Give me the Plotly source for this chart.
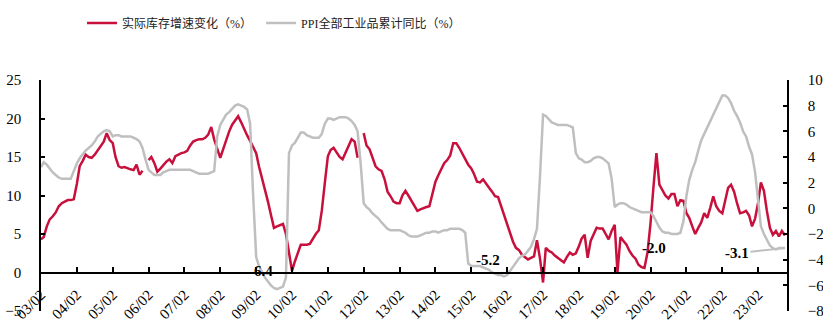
import pandas as pd
import plotly.graph_objects as go

# Monthly series, 2003-02 .. 2023-11
months = pd.date_range("2003-02-01", periods=250, freq="MS")

inventory = [
    4.3, 4.6, 6.0, 6.9, 7.3, 7.8, 8.6, 9.0, 9.2, 9.4, 9.4,                      # 2003
    9.5, 11.5, 13.8, 14.5, 15.3, 15.0, 14.9, 15.3, 15.9, 16.4, 17.0, 18.1,     # 2004
    17.2, 16.8, 15.0, 13.8, 13.6, 13.7, 13.5, 13.4, 13.3, 14.0, 12.7, 13.2,    # 2005
    None, 14.6, 15.0, 14.2, 13.1, 13.5, 14.0, 14.4, 14.7, 14.2, 15.1, 15.3,    # 2006
    15.5, 15.6, 15.8, 16.5, 17.0, 17.2, 17.3, 17.3, 17.5, 17.9, 18.9, 17.3,    # 2007
    16.0, 14.9, 16.0, 17.2, 18.3, 19.2, 19.8, 20.3, 19.5, 18.6, 17.8, 17.1,    # 2008
    16.3, 15.5, 13.8, 12.3, 10.8, 9.2, 7.5, 5.8, 6.0, 6.1, 6.3, 5.0,           # 2009
    2.6, 0.2, 1.4, 2.5, 3.6, 3.6, 3.6, 3.7, 4.4, 5.0, 5.5, 8.0,                # 2010
    11.6, 15.1, 15.9, 16.2, 15.6, 15.0, 14.7, 15.6, 16.6, 17.3, 17.0, 14.9,    # 2011
    None, 18.1, 16.5, 16.0, 15.0, 13.8, 13.4, 13.2, 12.1, 10.5, 9.9, 9.2,      # 2012
    9.0, 9.0, 10.0, 10.6, 10.0, 9.3, 8.6, 8.0, 8.2, 8.4, 8.5, 8.6,             # 2013
    10.3, 11.8, 12.6, 13.4, 14.2, 14.6, 15.2, 16.8, 16.8, 16.2, 15.5, 14.7,    # 2014
    14.0, 13.5, 12.8, 11.8, 11.7, 12.1, 11.5, 11.0, 10.5, 9.9, 9.8, 8.6,       # 2015
    7.6, 6.3, 5.2, 4.0, 3.2, 2.9, 2.3, 2.0, 1.7, 1.9, 2.1, 4.2,                # 2016
    1.8, -1.3, 3.2, 2.8, 2.6, 2.2, 1.9, 1.6, 1.3, 2.0, 2.6, 2.3,               # 2017
    2.5, 3.4, 4.4, 4.9, 1.9, 4.1, 5.0, 5.8, 5.7, 5.7, 5.0, 4.3,                # 2018
    5.4, 6.2, 0.0, 4.6, 4.1, 3.6, 2.8, 2.2, 1.8, 1.0, 0.7, 0.6,                # 2019
    2.6, 6.4, 11.0, 15.5, 11.4, 10.6, 10.0, 9.6, 10.2, 10.2, 8.6, 9.4,         # 2020
    9.3, 7.7, 7.1, 6.0, 5.0, 5.8, 6.5, 7.7, 7.1, 8.4, 9.9, 8.6,                # 2021
    8.0, 7.7, 9.3, 11.0, 11.4, 10.5, 9.0, 7.7, 7.8, 8.0, 7.4, 6.0,             # 2022
    7.0, 9.1, 11.7, 10.6, 8.0, 5.8, 4.9, 5.4, 4.7, 5.4, 4.8,                   # 2023
]

ppi = [
    3.2, 3.6, 3.4, 3.1, 2.8, 2.6, 2.4, 2.3, 2.3, 2.3, 2.3,                      # 2003
    2.9, 3.5, 3.9, 4.2, 4.5, 4.7, 4.9, 5.2, 5.6, 5.8, 6.0, 6.1,                # 2004
    6.0, 5.6, 5.7, 5.7, 5.6, 5.6, 5.6, 5.6, 5.5, 5.4, 5.2, 4.7,                # 2005
    3.8, 3.0, 2.8, 2.6, 2.6, 2.6, 2.8, 2.9, 3.0, 3.0, 3.0, 3.0,                # 2006
    3.0, 3.0, 3.0, 3.0, 2.9, 2.8, 2.7, 2.7, 2.7, 2.7, 2.8, 2.9,                # 2007
    5.6, 6.5, 6.9, 7.3, 7.5, 7.8, 8.0, 8.1, 8.0, 7.9, 7.7, 6.6,                # 2008
    1.0, -3.8, -4.5, -5.0, -5.4, -5.7, -6.0, -6.2, -6.3, -6.2, -6.1, -5.4,     # 2009
    4.3, 4.9, 5.1, 5.5, 5.9, 5.9, 5.7, 5.6, 5.5, 5.5, 5.5, 5.8,                # 2010
    6.6, 7.0, 7.0, 6.9, 7.0, 7.1, 7.1, 7.1, 7.0, 6.8, 6.5, 6.0,                # 2011
    3.5, 0.4, 0.1, -0.1, -0.4, -0.6, -0.8, -1.1, -1.4, -1.6, -1.7, -1.7,       # 2012
    -1.7, -1.7, -1.8, -1.9, -2.1, -2.2, -2.2, -2.2, -2.1, -2.0, -1.9, -1.9,    # 2013
    -1.8, -1.8, -1.9, -1.8, -1.7, -1.7, -1.6, -1.6, -1.6, -1.6, -1.7, -1.9,    # 2014
    -4.3, -4.5, -4.5, -4.5, -4.5, -4.6, -4.7, -4.8, -5.0, -5.1, -5.2, -5.2,    # 2015
    -5.3, -5.2, -4.9, -4.5, -4.2, -3.9, -3.7, -3.6, -3.3, -3.0, -2.4, -1.6,    # 2016
    2.5, 7.3, 7.2, 6.9, 6.7, 6.6, 6.5, 6.5, 6.5, 6.5, 6.4, 6.3,                # 2017
    4.3, 3.9, 3.8, 3.6, 3.6, 3.7, 3.9, 4.0, 4.0, 3.9, 3.7, 3.5,                # 2018
    2.3, 0.1, 0.3, 0.4, 0.4, 0.3, 0.1, 0.0, -0.1, -0.2, -0.3, -0.3,            # 2019
    -0.3, -0.3, -0.6, -1.1, -1.5, -1.8, -1.9, -1.9, -2.0, -2.0, -2.0, -1.9,    # 2020
    -1.0, 1.0, 2.2, 3.0, 3.6, 4.5, 5.3, 5.8, 6.3, 6.9, 7.3, 7.9,               # 2021
    8.3, 8.8, 8.8, 8.6, 8.2, 7.6, 7.2, 6.7, 6.0, 5.6, 4.8, 4.2,                # 2022
    2.8, 0.5, -1.4, -2.0, -2.5, -2.9, -3.1, -3.2, -3.1, -3.1, -3.1,            # 2023
]

tick_dates = pd.date_range("2003-02-01", "2023-02-01", freq="12MS")
tick_text = [d.strftime("%y/%m") for d in tick_dates]

# data labels on the PPI series: (text, month index)
ppi_labels = [("-6.4", 79), ("-5.2", 153), ("-2.0", 212), ("-3.1", 249)]

name_inv = "实际库存增速变化（%）"
name_ppi = "PPI全部工业品累计同比（%）"

RED = "#C8103C"
GREY = "#BFBFBF"
FONT = "Liberation Serif, Noto Sans CJK SC, serif"

fig = go.Figure()
fig.add_trace(go.Scatter(x=months, y=inventory, name=name_inv, mode="lines",
                         line=dict(color=RED, width=2.5), connectgaps=False,
                         yaxis="y", legend="legend"))
fig.add_trace(go.Scatter(x=months, y=ppi, name=name_ppi, mode="lines",
                         line=dict(color=GREY, width=2.5), yaxis="y2",
                         legend="legend2"))

shifts = {"-6.4": (-16, 18), "-5.2": (-10, 15), "-2.0": (-20, -14)}
for text, idx in ppi_labels:
    if text in shifts:
        dx, dy = shifts[text]
        fig.add_annotation(x=months[idx], y=ppi[idx], xref="x", yref="y2",
                           text=text, showarrow=False, xshift=dx, yshift=dy,
                           font=dict(family=FONT, size=15, color="#000000",
                                     weight="bold"))
    else:
        fig.add_annotation(x=months[idx], y=ppi[idx], xref="x", yref="y2",
                           text=text, showarrow=True, arrowhead=0,
                           arrowcolor=GREY, arrowwidth=2, ax=-48, ay=5,
                           standoff=0,
                           font=dict(family=FONT, size=15, color="#000000",
                                     weight="bold"))

x_end = months[-1] + pd.Timedelta(days=21)

legend_style = dict(orientation="h", xanchor="left", y=1.31, yanchor="top",
                    font=dict(family=FONT, size=12, color="#222222"),
                    itemwidth=30, bgcolor="rgba(0,0,0,0)")

fig.update_layout(
    width=823, height=322,
    margin=dict(l=41, r=36, t=80, b=11, autoexpand=False),
    paper_bgcolor="white", plot_bgcolor="white",
    font=dict(family=FONT, size=15, color="#000000"),
    showlegend=True,
    legend=dict(x=0.055, **legend_style),
    legend2=dict(x=0.295, **legend_style),
    xaxis=dict(type="date", range=[months[0], x_end],
               tickvals=list(tick_dates), ticktext=tick_text,
               tickangle=-45, ticks="inside", ticklen=5, tickwidth=1.5,
               tickcolor="#000000", showline=True, linecolor="#000000",
               linewidth=1.5, showgrid=False, zeroline=False,
               anchor="free", position=1/6, side="bottom", automargin=False,
               tickfont=dict(family=FONT, size=15), ticklabelstandoff=7),
    yaxis=dict(range=[-5, 25], dtick=5, tick0=0, ticks="inside", ticklen=4,
               tickwidth=1.5, tickcolor="#000000", showline=True,
               linecolor="#000000", linewidth=1.5, showgrid=False,
               zeroline=False, tickfont=dict(family=FONT, size=15),
               ticklabelstandoff=15, automargin=False),
    yaxis2=dict(range=[-8, 10], dtick=2, tick0=0, overlaying="y", side="right",
                ticks="inside", ticklen=4, tickwidth=1.5, tickcolor="#000000",
                showline=True, linecolor="#000000", linewidth=1.5,
                showgrid=False, zeroline=False, automargin=False,
                tickfont=dict(family=FONT, size=15), ticklabelstandoff=16),
)

fig.write_html("out.html")
